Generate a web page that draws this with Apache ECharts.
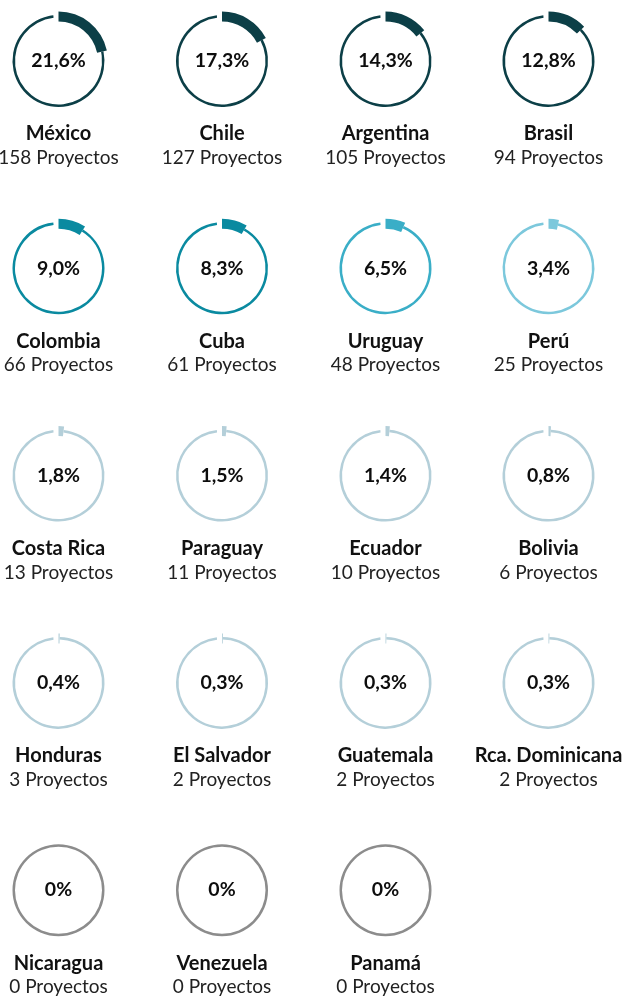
<!DOCTYPE html>
<html>
<head>
<meta charset="utf-8">
<script src="https://cdn.jsdelivr.net/npm/echarts@6/dist/echarts.min.js"></script>
<style>
  html, body { margin: 0; padding: 0; background: #fff; }
  #chart { width: 622px; height: 999px; }
</style>
</head>
<body>
<div id="chart"></div>
<script>
// datos por país
const countries = ['México', 'Chile', 'Argentina', 'Brasil',
  'Colombia', 'Cuba', 'Uruguay', 'Perú',
  'Costa Rica', 'Paraguay', 'Ecuador', 'Bolivia',
  'Honduras', 'El Salvador', 'Guatemala', 'Rca. Dominicana',
  'Nicaragua', 'Venezuela', 'Panamá']
const projects = [158, 127, 105, 94, 66, 61, 48, 25, 13, 11, 10, 6, 3, 2, 2, 2, 0, 0, 0]
const shares = [21.6, 17.3, 14.3, 12.8, 9.0, 8.3, 6.5, 3.4, 1.8, 1.5, 1.4, 0.8, 0.4, 0.3, 0.3, 0.3, 0, 0, 0]

// colores de cada anillo
const ringColors = ['#0c3f47', '#0c3f47', '#0c3f47', '#0c3f47',
  '#0a8aa0', '#0a8aa0', '#3aaec7', '#7cc8dc',
  '#b4cfd9', '#b4cfd9', '#b4cfd9', '#b4cfd9',
  '#b4cfd9', '#b4cfd9', '#b4cfd9', '#b4cfd9',
  '#8c8c8c', '#8c8c8c', '#8c8c8c']

const colX = [58.5, 222, 385.5, 548.5]
const rowY0 = 61
const rowStep = 207.3
const gap = 1.8 // hueco antes del arco
const font = 'Lato, "Noto Sans", sans-serif'

const fmtShare = v => v === 0 ? '0%' : v.toFixed(1).replace('.', ',') + '%'

const series = []
const graphic = []

countries.forEach((name, i) => {
  const cx = colX[i % 4]
  const cy = rowY0 + Math.floor(i / 4) * rowStep
  const color = ringColors[i]
  const share = shares[i]
  const g = share > 0 ? gap : 0

  // anillo fino
  series.push({
    type: 'pie',
    silent: true,
    animation: false,
    center: [cx, cy],
    radius: [43.5, 46],
    startAngle: 90,
    label: { show: false },
    labelLine: { show: false },
    data: [
      { value: share, itemStyle: { color: 'transparent' } },
      {
        value: 100 - share - g,
        itemStyle: { color: color },
        label: {
          show: true,
          position: 'center',
          formatter: () => fmtShare(share),
          color: '#0d0d0d',
          fontFamily: font,
          fontWeight: 'bold',
          fontSize: 19.5
        }
      },
      { value: g, itemStyle: { color: 'transparent' } }
    ]
  })

  // arco grueso del porcentaje
  if (share > 0) {
    series.push({
      type: 'pie',
      silent: true,
      animation: false,
      center: [cx, cy],
      radius: [39.5, 49.5],
      startAngle: 90,
      label: { show: false },
      labelLine: { show: false },
      data: [
        { value: share, itemStyle: { color: color } },
        { value: 100 - share, itemStyle: { color: 'transparent' } }
      ]
    })
  }

  graphic.push({
    type: 'text',
    x: cx,
    y: cy + 73,
    silent: true,
    style: {
      text: name,
      align: 'center',
      verticalAlign: 'middle',
      fontFamily: font,
      fontWeight: 'bold',
      fontSize: 20,
      fill: '#111'
    }
  })
  graphic.push({
    type: 'text',
    x: cx,
    y: cy + 97,
    silent: true,
    style: {
      text: projects[i] + ' Proyectos',
      align: 'center',
      verticalAlign: 'middle',
      fontFamily: font,
      fontSize: 19,
      fill: '#222'
    }
  })
})

const chart = echarts.init(document.getElementById('chart'))
chart.setOption({
  animation: false,
  backgroundColor: '#fff',
  series: series,
  graphic: graphic
})
</script>
</body>
</html>
